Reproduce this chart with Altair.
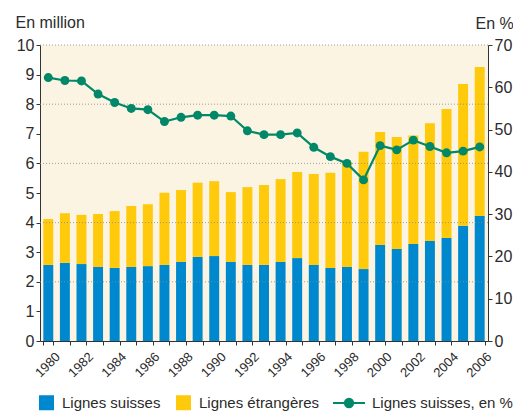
import altair as alt
import pandas as pd

years = list(range(1980, 2007))
swiss = [2.57, 2.64, 2.60, 2.50, 2.47, 2.50, 2.53, 2.57, 2.67, 2.84, 2.87, 2.67, 2.57, 2.57,
         2.67, 2.80, 2.57, 2.47, 2.50, 2.43, 3.24, 3.11, 3.28, 3.38, 3.48, 3.89, 4.22]
total = [4.12, 4.32, 4.26, 4.29, 4.39, 4.56, 4.62, 5.01, 5.10, 5.35, 5.40, 5.03, 5.20, 5.27,
         5.47, 5.71, 5.64, 5.68, 6.05, 6.39, 7.06, 6.89, 6.94, 7.36, 7.84, 8.68, 9.26]
pct = [62.3, 61.6, 61.5, 58.4, 56.4, 55.0, 54.7, 51.9, 52.9, 53.4, 53.4, 53.2, 49.7, 48.8,
       48.8, 49.2, 45.8, 43.6, 42.0, 38.1, 46.2, 45.2, 47.5, 46.0, 44.5, 44.9, 45.9]
grid_vals = [2, 4, 6, 8, 10]

S_SW = "Lignes suisses"
S_FO = "Lignes étrangères"
S_PC = "Lignes suisses, en %"

BLUE = "#0088CE"
YELLOW = "#FFC90C"
GREEN = "#008868"
BG = "#FBF4E3"
FONT = "Liberation Sans"
TXT = "#2b2b2b"
AX = "#333333"
FS = 16
LFS = 15

rows = []
for y, s, t in zip(years, swiss, total):
    rows.append({"year": y, "series": S_SW, "value": s, "ord": 0})
    rows.append({"year": y, "series": S_FO, "value": round(t - s, 3), "ord": 1})
bars_df = pd.DataFrame(rows)
line_df = pd.DataFrame({"year": years, "pct": pct, "series": [S_PC] * len(years)})
grid_df = pd.DataFrame({"g": grid_vals})

x_enc = alt.X(
    "year:O",
    scale=alt.Scale(paddingInner=0.4, paddingOuter=0.2),
    axis=alt.Axis(
        title=None, labelAngle=-45, tickBand="extent", tickSize=4,
        labelExpr="datum.value % 2 == 0 ? datum.label : ''",
        labelFont=FONT, labelFontSize=13, labelColor=TXT,
        domainColor=AX, tickColor=AX, labelPadding=5, labelOffset=5,
    ),
)

bars = alt.Chart(bars_df).mark_bar().encode(
    x=x_enc,
    y=alt.Y(
        "value:Q", stack="zero",
        scale=alt.Scale(domain=[0, 10], nice=False),
        axis=alt.Axis(
            orient="left", values=list(range(0, 11)), grid=False, tickSize=4,
            labelFont=FONT, labelFontSize=FS, labelColor=TXT, labelPadding=2,
            domainColor=AX, tickColor=AX,
            title="En million", titleAngle=0, titleAlign="left",
            titleBaseline="alphabetic", titleX=-25, titleY=-18,
            titleFont=FONT, titleFontSize=FS, titleFontWeight="normal", titleColor=TXT,
        ),
    ),
    color=alt.Color(
        "series:N",
        scale=alt.Scale(domain=[S_SW, S_FO], range=[BLUE, YELLOW]),
        legend=alt.Legend(
            title=None, orient="none", direction="horizontal",
            legendX=-1, legendY=350, symbolType="square", symbolSize=225,
            symbolStrokeWidth=0, labelFont=FONT, labelFontSize=LFS, labelColor=TXT,
            labelOffset=8, columnPadding=15, padding=0,
        ),
    ),
    order=alt.Order("ord:Q"),
)

grid = alt.Chart(grid_df).mark_rule(
    color="#8a8a8a", strokeDash=[1, 2], strokeWidth=1, opacity=0.8
).encode(
    y=alt.Y("g:Q", scale=alt.Scale(domain=[0, 10], nice=False), axis=None)
)

sym_path = "M-1,0L1,0M0.26,0A0.26,0.26,0,1,1,-0.26,0A0.26,0.26,0,1,1,0.26,0Z"

line = alt.Chart(line_df).mark_line(
    color=GREEN, strokeWidth=2.2,
    point=alt.OverlayMarkDef(filled=True, size=80, color=GREEN, opacity=1),
).encode(
    x=alt.X("year:O"),
    y=alt.Y(
        "pct:Q",
        scale=alt.Scale(domain=[0, 70], nice=False),
        axis=alt.Axis(
            orient="right", values=list(range(0, 71, 10)), grid=False, tickSize=4,
            labelFont=FONT, labelFontSize=FS, labelColor=TXT, labelPadding=2,
            domainColor=AX, tickColor=AX,
            title="En %", titleAngle=0, titleAlign="left",
            titleBaseline="alphabetic", titleX=-13, titleY=-17,
            titleFont=FONT, titleFontSize=FS, titleFontWeight="normal", titleColor=TXT,
        ),
    ),
    color=alt.Color(
        "series:N",
        scale=alt.Scale(domain=[S_PC], range=[GREEN]),
        legend=alt.Legend(
            title=None, orient="none", direction="horizontal",
            legendX=292, legendY=341, symbolType=sym_path, symbolSize=1024,
            symbolFillColor=GREEN, symbolStrokeColor=GREEN, symbolStrokeWidth=2,
            labelFont=FONT, labelFontSize=LFS, labelColor=TXT, labelOffset=6, padding=0,
        ),
    ),
)

chart = alt.layer(bars, grid, line).resolve_scale(
    y="independent", color="independent"
).properties(
    width=448, height=296,
    autosize=alt.AutoSizeParams(type="none"),
    padding={"left": 32, "top": 37, "right": 25, "bottom": 70},
).configure_view(
    fill=BG, stroke=None
)

chart.save("out.html", embed_options={"renderer": "svg", "actions": False})
